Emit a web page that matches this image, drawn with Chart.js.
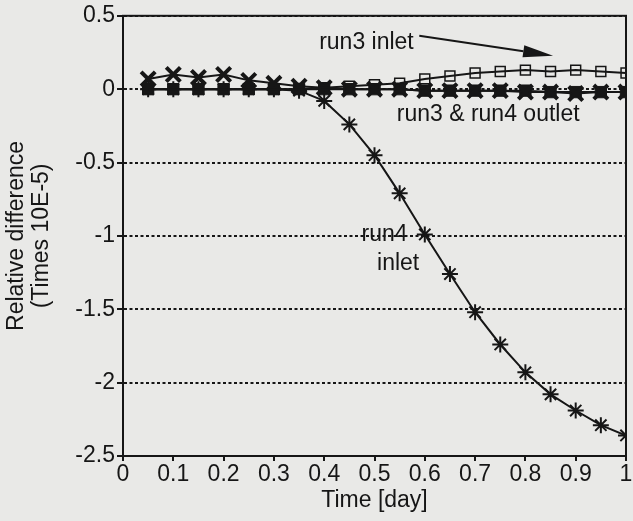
<!DOCTYPE html>
<html>
<head>
<meta charset="utf-8">
<script src="https://cdn.jsdelivr.net/npm/chart.js@4"></script>
<style>
  html, body { margin: 0; padding: 0; background: #e9e9e7; overflow: hidden; }
</style>
</head>
<body>
<canvas id="chart" width="640" height="521"></canvas>
<script>
// time axis (day)
const times = [0.05, 0.1, 0.15, 0.2, 0.25, 0.3, 0.35, 0.4, 0.45, 0.5,
  0.55, 0.6, 0.65, 0.7, 0.75, 0.8, 0.85, 0.9, 0.95, 1];

// relative difference (times 10E-5)
const run3Inlet = [0, 0, 0, 0, 0, 0, 0, 0.01, 0.02, 0.03,
  0.04, 0.07, 0.09, 0.11, 0.12, 0.13, 0.12, 0.13, 0.12, 0.11];
const run4Inlet = [0, 0, 0, 0, 0, 0, -0.01, -0.08, -0.24, -0.45,
  -0.71, -0.99, -1.26, -1.52, -1.74, -1.93, -2.08, -2.19, -2.29, -2.36];
const run3Outlet = [0, 0, 0, 0, 0, 0, 0, 0, 0, 0,
  0, -0.01, -0.01, -0.01, -0.01, -0.01, -0.02, -0.02, -0.02, -0.02];
const run4Outlet = [0.07, 0.1, 0.08, 0.1, 0.06, 0.04, 0.02, 0.01, 0, 0,
  0, -0.01, -0.01, -0.01, -0.01, -0.02, -0.02, -0.03, -0.02, -0.02];

// text notes placed in data units
const noteTexts = ["run3 inlet", "run3 & run4 outlet", "run4", "inlet"];
const noteX = [0.484, 0.726, 0.52, 0.547];
const noteY = [0.316, -0.175, -0.99, -1.19];
const arrowFrom = [0.589, 0.364];
const arrowTo = [0.855, 0.228];

const ink = "#161616";
const font = "'Liberation Sans', Arial, Helvetica, sans-serif";
const fontSize = 23;

function points(values) {
  return times.map((t, i) => ({ x: t, y: values[i] }));
}

const paperPlugin = {
  id: "paper",
  beforeDraw(chart) {
    const ctx = chart.ctx;
    ctx.save();
    ctx.fillStyle = "#e9e9e7";
    ctx.fillRect(0, 0, chart.width, chart.height);
    ctx.restore();
  },
  afterDatasetsDraw(chart) {
    const ctx = chart.ctx;
    const area = chart.chartArea;
    const xs = chart.scales.x;
    const ys = chart.scales.y;
    ctx.save();
    // frame
    ctx.strokeStyle = ink;
    ctx.lineWidth = 2;
    ctx.strokeRect(area.left, area.top, area.right - area.left, area.bottom - area.top);

    // notes
    ctx.fillStyle = ink;
    ctx.font = fontSize + "px " + font;
    ctx.textAlign = "center";
    ctx.textBaseline = "middle";
    noteTexts.forEach((txt, i) => {
      ctx.fillText(txt, xs.getPixelForValue(noteX[i]), ys.getPixelForValue(noteY[i]));
    });

    // arrow
    const x0 = xs.getPixelForValue(arrowFrom[0]);
    const y0 = ys.getPixelForValue(arrowFrom[1]);
    const x1 = xs.getPixelForValue(arrowTo[0]);
    const y1 = ys.getPixelForValue(arrowTo[1]);
    const ang = Math.atan2(y1 - y0, x1 - x0);
    const headLen = 30;
    const headW = 6;
    const bx = x1 - headLen * Math.cos(ang);
    const by = y1 - headLen * Math.sin(ang);
    ctx.lineWidth = 2;
    ctx.beginPath();
    ctx.moveTo(x0, y0);
    ctx.lineTo(bx, by);
    ctx.stroke();
    ctx.beginPath();
    ctx.moveTo(x1, y1);
    ctx.lineTo(bx + headW * Math.sin(ang), by - headW * Math.cos(ang));
    ctx.lineTo(bx - headW * Math.sin(ang), by + headW * Math.cos(ang));
    ctx.closePath();
    ctx.fill();
    ctx.restore();
  }
};

new Chart(document.getElementById("chart"), {
  type: "scatter",
  data: {
    datasets: [
      {
        label: "run3 inlet",
        data: points(run3Inlet),
        showLine: true,
        borderColor: ink,
        borderWidth: 2,
        pointStyle: "rect",
        pointRadius: 7,
        pointBorderWidth: 1.5,
        pointBorderColor: ink,
        pointBackgroundColor: "rgba(0,0,0,0)",
      },
      {
        label: "run4 outlet",
        data: points(run4Outlet),
        showLine: true,
        borderColor: ink,
        borderWidth: 2,
        pointStyle: "crossRot",
        pointRadius: 10,
        pointBorderWidth: 4,
        pointBorderColor: ink,
      },
      {
        label: "run3 outlet",
        data: points(run3Outlet),
        showLine: true,
        borderColor: ink,
        borderWidth: 2,
        pointStyle: "rect",
        pointRadius: 8,
        pointBorderWidth: 1,
        pointBorderColor: ink,
        pointBackgroundColor: ink,
      },
      {
        label: "run4 inlet",
        data: points(run4Inlet),
        showLine: true,
        borderColor: ink,
        borderWidth: 2,
        pointStyle: "star",
        pointRadius: 8,
        pointBorderWidth: 2,
        pointBorderColor: ink,
      },
    ],
  },
  options: {
    responsive: false,
    animation: false,
    layout: { padding: { left: 5, top: 14, right: 11, bottom: 0 } },
    plugins: {
      legend: { display: false },
      tooltip: { enabled: false },
    },
    scales: {
      x: {
        type: "linear",
        min: 0,
        max: 1,
        afterFit: (scale) => { scale.height = 65; },
        ticks: {
          stepSize: 0.1,
          color: ink,
          padding: 0,
          font: { family: font, size: fontSize },
          callback: (v) => String(Number(v.toFixed(1))),
        },
        grid: { drawOnChartArea: false, drawTicks: true, tickLength: 5, color: ink, lineWidth: 2 },
        border: { color: ink, width: 2 },
        title: {
          display: true,
          text: "Time [day]",
          color: ink,
          font: { family: font, size: fontSize },
          padding: { top: 0, bottom: 7 },
        },
      },
      y: {
        min: -2.5,
        max: 0.5,
        afterFit: (scale) => { scale.width = 118; },
        ticks: {
          stepSize: 0.5,
          color: ink,
          padding: 2,
          font: { family: font, size: fontSize },
          callback: (v) => String(v),
        },
        grid: {
          color: ink,
          lineWidth: 2,
          tickLength: 6,
          tickBorderDash: [],
        },
        border: { color: ink, width: 2, dash: [3, 2.5] },
        title: {
          display: true,
          text: ["Relative difference", "(Times 10E-5)"],
          color: ink,
          font: { family: font, size: fontSize, lineHeight: 1.05 },
          padding: { top: 0, bottom: 0 },
        },
      },
    },
  },
  plugins: [paperPlugin],
});
</script>
</body>
</html>
